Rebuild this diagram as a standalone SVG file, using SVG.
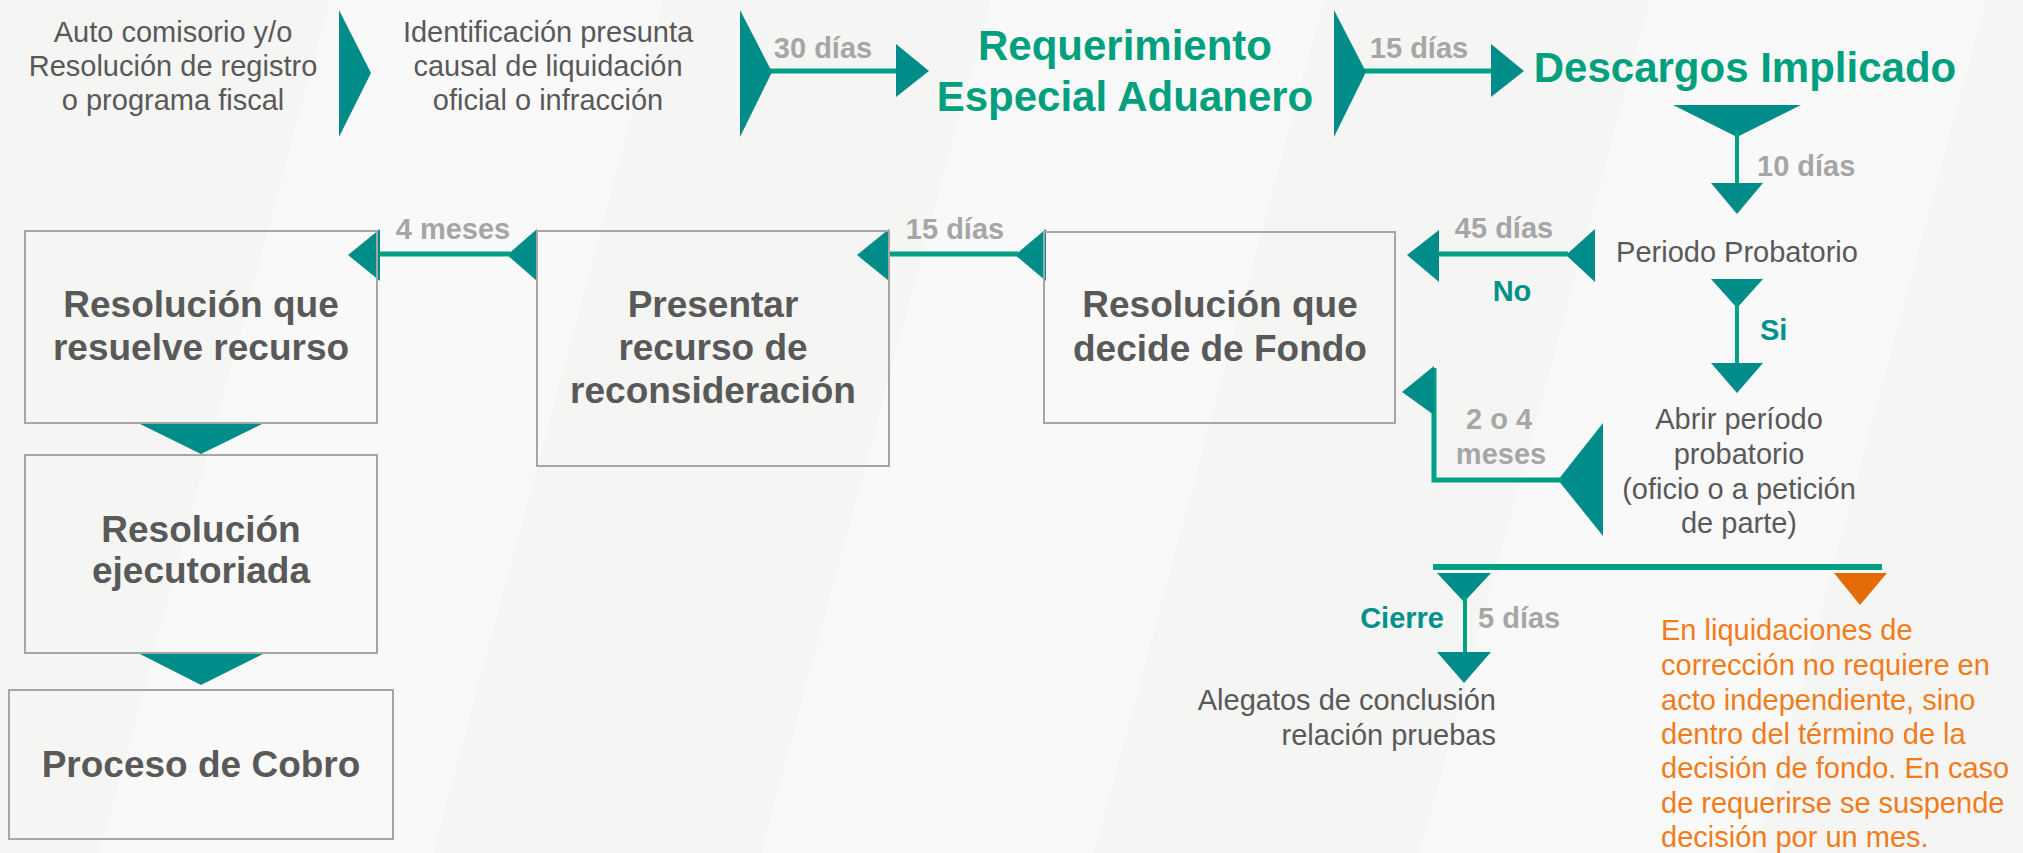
<svg xmlns="http://www.w3.org/2000/svg" width="2023" height="853" viewBox="0 0 2023 853">
<style>
text{font-family:"Liberation Sans",Arial,sans-serif}
.reg{font-size:29px;fill:#595959}
.node{font-size:37px;font-weight:bold;fill:#595959;text-anchor:middle}
.title{font-size:42px;font-weight:bold;fill:#00a07f;text-anchor:middle}
.lbl{font-size:29px;font-weight:bold;fill:#a6a6a6}
.tl{font-size:29px;font-weight:bold;fill:#00918a}
.org{font-size:29px;fill:#f07c1b}
.box{fill:none;stroke:#a6a6a6;stroke-width:2}
.ar{fill:#008d89}
.ln{fill:none;stroke:#00a085;stroke-width:5}
.ln4{fill:none;stroke:#00a085;stroke-width:4}
.mid{text-anchor:middle}
.end{text-anchor:end}
</style>
<rect x="0" y="0" width="2023" height="853" fill="#f5f5f4"/>
<g fill="#f9f9f9">
<polygon points="330,0 663,0 433,853 100,853"/>
<polygon points="991,0 1324,0 1094,853 761,853"/>
<polygon points="1650,0 1986,0 1756,853 1420,853"/>
</g>
<g id="connectors">
<line class="ln" x1="769" y1="71" x2="897" y2="71"/>
<polygon class="ar" points="896,44 929,71 896,97"/>
<line class="ln" x1="1364" y1="71" x2="1492" y2="71"/>
<polygon class="ar" points="1491,44 1524,71 1491,97"/>
<polygon class="ar" points="1673,105 1801,105 1737,137"/>
<line class="ln4" x1="1737" y1="130" x2="1737" y2="186"/>
<polygon class="ar" points="1711,183 1763,183 1737,214"/>
<polygon class="ar" points="1595,229 1595,282 1566,255"/>
<line class="ln" x1="1438" y1="254" x2="1568" y2="254"/>
<polygon class="ar" points="1439,230 1439,282 1407,255"/>
<polygon class="ar" points="1711,279 1763,279 1737,308"/>
<line class="ln4" x1="1737" y1="300" x2="1737" y2="366"/>
<polygon class="ar" points="1711,363 1763,363 1737,393"/>
<polygon class="ar" points="1603,423 1603,536 1558,480"/>
<polyline class="ln" points="1562,480 1434,480 1434,368"/>
<polygon class="ar" points="1434,366 1434,415 1402,392"/>
<polygon class="ar" points="1046,229 1046,281 1015,255"/>
<line class="ln" x1="888" y1="254" x2="1018" y2="254"/>
<polygon class="ar" points="889,229 889,281 857,255"/>
<polygon class="ar" points="537,229 537,281 507,255"/>
<line class="ln" x1="379" y1="254" x2="510" y2="254"/>
<polygon class="ar" points="380,229 380,281 348,255"/>
<polygon class="ar" points="138,423 264,423 201,454"/>
<polygon class="ar" points="138,653 265,653 201,685"/>
<line x1="1433" y1="567" x2="1882" y2="567" stroke="#00a085" stroke-width="6"/>
<polygon class="ar" points="1437,573 1491,573 1464,602"/>
<line class="ln4" x1="1465" y1="596" x2="1465" y2="655"/>
<polygon class="ar" points="1437,652 1491,652 1464,683"/>
<polygon fill="#e36c09" points="1834,573 1887,573 1860,605"/>
<polygon class="ar" points="339,10 371,73 339,137"/>
<polygon class="ar" points="740,10 772,72 740,137"/>
<polygon class="ar" points="1334,10 1366,72 1334,137"/>
<text class="lbl mid" x="823" y="58">30 días</text>
<text class="lbl mid" x="1419" y="58">15 días</text>
<text class="lbl" x="1757" y="176">10 días</text>
<text class="lbl mid" x="1504" y="238">45 días</text>
<text class="tl mid" x="1512" y="301">No</text>
<text class="tl" x="1760" y="340">Si</text>
<text class="lbl mid" x="1499" y="429">2 o 4</text>
<text class="lbl mid" x="1501" y="464">meses</text>
<text class="lbl mid" x="955" y="239">15 días</text>
<text class="lbl mid" x="453" y="239">4 meses</text>
<text class="tl end" x="1444" y="628">Cierre</text>
<text class="lbl" x="1478" y="628">5 días</text>
</g>
<g id="n-auto">
<text class="reg mid" x="173" y="42">Auto comisorio y/o</text>
<text class="reg mid" x="173" y="76">Resolución de registro</text>
<text class="reg mid" x="173" y="110">o programa fiscal</text>
</g>
<g id="n-ident">
<text class="reg mid" x="548" y="42">Identificación presunta</text>
<text class="reg mid" x="548" y="76">causal de liquidación</text>
<text class="reg mid" x="548" y="110">oficial o infracción</text>
</g>
<g id="n-req">
<text class="title" x="1125" y="60">Requerimiento</text>
<text class="title" x="1125" y="111">Especial Aduanero</text>
</g>
<g id="n-desc">
<text class="title" x="1745" y="82">Descargos Implicado</text>
</g>
<g id="n-periodo">
<text class="reg mid" x="1737" y="262">Periodo Probatorio</text>
</g>
<g id="n-abrir">
<text class="reg mid" x="1739" y="429">Abrir período</text>
<text class="reg mid" x="1739" y="464">probatorio</text>
<text class="reg mid" x="1739" y="499">(oficio o a petición</text>
<text class="reg mid" x="1739" y="533">de parte)</text>
</g>
<g id="n-fondo">
<rect class="box" x="1044" y="232" width="351" height="191"/>
<text class="node" x="1220" y="317">Resolución que</text>
<text class="node" x="1220" y="361">decide de Fondo</text>
</g>
<g id="n-presentar">
<rect class="box" x="537" y="231" width="352" height="235"/>
<text class="node" x="713" y="317">Presentar</text>
<text class="node" x="713" y="360">recurso de</text>
<text class="node" x="713" y="403">reconsideración</text>
</g>
<g id="n-resuelve">
<rect class="box" x="25" y="231" width="352" height="192"/>
<text class="node" x="201" y="317">Resolución que</text>
<text class="node" x="201" y="360">resuelve recurso</text>
</g>
<g id="n-ejecutoriada">
<rect class="box" x="25" y="455" width="352" height="198"/>
<text class="node" x="201" y="542">Resolución</text>
<text class="node" x="201" y="583">ejecutoriada</text>
</g>
<g id="n-cobro">
<rect class="box" x="9" y="690" width="384" height="149"/>
<text class="node" x="201" y="777">Proceso de Cobro</text>
</g>
<g id="n-alegatos">
<text class="reg end" x="1496" y="710">Alegatos de conclusión</text>
<text class="reg end" x="1496" y="745">relación pruebas</text>
</g>
<g id="n-nota">
<text class="org" x="1661" y="640">En liquidaciones de</text>
<text class="org" x="1661" y="675">corrección no requiere en</text>
<text class="org" x="1661" y="710">acto independiente, sino</text>
<text class="org" x="1661" y="744">dentro del término de la</text>
<text class="org" x="1661" y="778">decisión de fondo. En caso</text>
<text class="org" x="1661" y="813">de requerirse se suspende</text>
<text class="org" x="1661" y="847">decisión por un mes.</text>
</g>
</svg>
